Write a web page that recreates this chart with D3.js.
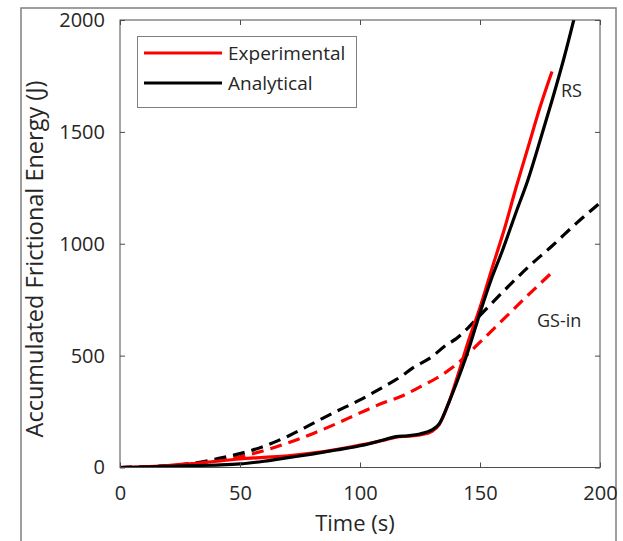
<!DOCTYPE html>
<html>
<head>
<meta charset="utf-8">
<script src="https://cdn.jsdelivr.net/npm/d3@7"></script>
<style>
  body { margin: 0; background: #fff; }
  text { font-family: "Open Sans", "Noto Sans", sans-serif; fill: #262626; }
</style>
</head>
<body>
<svg id="chart" width="623" height="541"></svg>
<script>
// Values
var rsExpTime = [0, 10, 20, 30, 40, 50, 60, 70, 80, 90, 100, 110, 115, 120, 125, 130, 133, 137, 141, 145, 150, 155, 160, 165, 170, 175, 180];
var rsExpEnergy = [0, 3, 9, 17, 28, 38, 45, 52, 64, 80, 100, 122, 135, 140, 146, 162, 192, 290, 420, 560, 715, 890, 1060, 1250, 1430, 1610, 1770];

var rsAnaTime = [0, 10, 20, 30, 40, 50, 60, 70, 80, 90, 100, 110, 115, 120, 125, 130, 133, 137, 141, 145, 150, 155, 159, 165, 170, 175, 180, 185, 190];
var rsAnaEnergy = [0, 2, 5, 8, 11, 16, 28, 44, 60, 78, 97, 124, 138, 142, 150, 168, 195, 290, 400, 520, 691, 850, 960, 1140, 1286, 1460, 1640, 1830, 2040];

var gsExpTime = [0, 10, 20, 30, 40, 50, 60, 70, 80, 90, 100, 110, 117, 125, 132, 140, 150, 160, 170, 180];
var gsExpEnergy = [0, 3, 8, 17, 30, 48, 75, 110, 150, 195, 244, 290, 317, 360, 400, 459, 560, 665, 770, 872];

var gsAnaTime = [0, 10, 20, 30, 40, 50, 60, 70, 80, 90, 100, 110, 117, 122, 130, 136, 140, 150, 160, 170, 180, 190, 200];
var gsAnaEnergy = [0, 3, 8, 18, 38, 62, 95, 140, 195, 250, 302, 362, 406, 445, 495, 548, 575, 680, 790, 895, 990, 1090, 1183];

var xTicks = [0, 50, 100, 150, 200];
var yTicks = [0, 500, 1000, 1500, 2000];

var margin = { top: 20, right: 23, bottom: 73.5, left: 120 };
var width = 600 - margin.left;
var height = 467.5 - margin.top;

var svg = d3.select("#chart");

// outer figure frame
svg.append("rect")
    .attr("x", 21).attr("y", 8)
    .attr("width", 595).attr("height", 560)
    .attr("fill", "none")
    .attr("stroke", "#7f7f7f")
    .attr("stroke-width", 1.5);

var g = svg.append("g")
    .attr("transform", "translate(" + margin.left + "," + margin.top + ")");

var xScale = d3.scaleLinear().domain([0, 200]).range([0, width]);
var yScale = d3.scaleLinear().domain([0, 2000]).range([height, 0]);

// axes with inward ticks, plain number labels
var xAxis = d3.axisBottom(xScale).tickValues(xTicks).tickFormat(d3.format("d"))
    .tickSizeInner(-5).tickSizeOuter(0).tickPadding(18);
var yAxis = d3.axisLeft(yScale).tickValues(yTicks).tickFormat(d3.format("d"))
    .tickSizeInner(-5).tickSizeOuter(0).tickPadding(15);

g.append("defs").append("clipPath").attr("id", "clip")
    .append("rect").attr("width", width).attr("height", height);

var line = d3.line()
    .x(function(d) { return xScale(d[0]); })
    .y(function(d) { return yScale(d[1]); })
    .curve(d3.curveMonotoneX);

function zip(t, e) {
    return t.map(function(v, i) { return [v, e[i]]; });
}

var series = [
    { data: zip(gsExpTime, gsExpEnergy), color: "#ff0000", dash: "12,7" },
    { data: zip(gsAnaTime, gsAnaEnergy), color: "#000000", dash: "12,7" },
    { data: zip(rsExpTime, rsExpEnergy), color: "#ff0000", dash: null },
    { data: zip(rsAnaTime, rsAnaEnergy), color: "#000000", dash: null }
];

var plot = g.append("g").attr("clip-path", "url(#clip)");
series.forEach(function(s) {
    plot.append("path")
        .attr("d", line(s.data))
        .attr("fill", "none")
        .attr("stroke", s.color)
        .attr("stroke-width", 3.2)
        .attr("stroke-dasharray", s.dash);
});

// box
g.append("rect")
    .attr("width", width).attr("height", height)
    .attr("fill", "none")
    .attr("stroke", "#4d4d4d")
    .attr("stroke-width", 1);

var xg = g.append("g").attr("transform", "translate(0," + height + ")").call(xAxis);
var yg = g.append("g").call(yAxis);
var xTop = g.append("g").call(d3.axisTop(xScale).tickValues(xTicks).tickSizeInner(-5).tickSizeOuter(0).tickFormat(""));
var yRight = g.append("g").attr("transform", "translate(" + width + ",0)")
    .call(d3.axisRight(yScale).tickValues(yTicks).tickSizeInner(-5).tickSizeOuter(0).tickFormat(""));

[xg, yg, xTop, yRight].forEach(function(a) {
    a.select(".domain").remove();
    a.selectAll("line").attr("stroke", "#4d4d4d");
    a.selectAll("text")
        .attr("fill", "#262626")
        .style("font-size", "20px")
        .style("font-family", "'Open Sans', sans-serif");
});

// axis labels
svg.append("text")
    .attr("x", 355)
    .attr("y", 531)
    .attr("text-anchor", "middle")
    .style("font-size", "22px")
    .text("Time (s)");

svg.append("text")
    .attr("transform", "translate(43,259) rotate(-90)")
    .attr("text-anchor", "middle")
    .style("font-size", "23.5px")
    .text("Accumulated Frictional Energy (J)");

// curve annotations
svg.append("text").attr("x", 561).attr("y", 97).style("font-size", "18px").text("RS");
svg.append("text").attr("x", 537).attr("y", 327).style("font-size", "18px").text("GS-in");

// legend
var legend = svg.append("g");
legend.append("rect")
    .attr("x", 137.5).attr("y", 36.5)
    .attr("width", 219).attr("height", 71)
    .attr("fill", "#fff")
    .attr("stroke", "#7f7f7f")
    .attr("stroke-width", 1);

var legendItems = [
    { label: "Experimental", color: "#ff0000", y: 53 },
    { label: "Analytical", color: "#000000", y: 83 }
];
legendItems.forEach(function(d) {
    legend.append("line")
        .attr("x1", 144).attr("x2", 222)
        .attr("y1", d.y).attr("y2", d.y)
        .attr("stroke", d.color)
        .attr("stroke-width", 3);
    legend.append("text")
        .attr("x", 228)
        .attr("y", d.y + 7)
        .style("font-size", "19px")
        .text(d.label);
});
</script>
</body>
</html>
